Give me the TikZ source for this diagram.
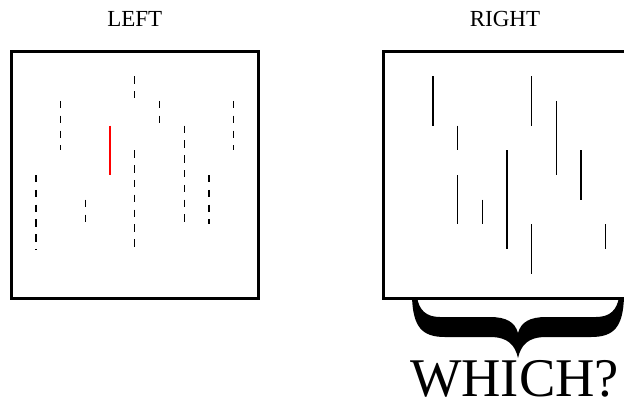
\documentclass[tikz,border=0pt]{standalone}
\usepackage{fontspec}
\setmainfont{Liberation Serif}
\begin{document}
\begin{tikzpicture}[x=1pt,y=-1pt,
  frame/.style={draw=black,line width=3.4pt},
  dashseg/.style={draw=black,line width=1.3pt,dash pattern=on 7.4pt off 7.4pt},
  solidseg/.style={draw=black,line width=1.3pt},
  redseg/.style={draw=red,line width=1.3pt},
  title/.style={font=\fontsize{23}{23}\selectfont,anchor=base,inner sep=0pt},
  bigtitle/.style={font=\fontsize{54.5}{54.5}\selectfont,anchor=base,inner sep=0pt}]
\useasboundingbox (0,0) rectangle (624,400);
\def\u{24.7}
\def\yo{51.5}
\def\xl{11.3}
\def\xr{383.5}
% frames
\draw[frame] (\xl,\yo) rectangle ++(247,247);
\draw[frame] (\xr,\yo) rectangle ++(247,247);
% titles
\node[title] (left) at (134.8,26.7) {LEFT};
\node[title] (right) at (505,26.7) {RIGHT};
% left dashed segments: x-unit / from / to
\foreach \i/\a/\b in {1/5/8, 2/2/4, 3/6/7, 5/1/2, 5/4/8, 6/2/3, 7/3/7, 8/5/7, 9/2/4}
  \draw[dashseg] ({\xl+\i*\u},{\yo+\a*\u}) -- ({\xl+\i*\u},{\yo+\b*\u});
\draw[redseg] ({\xl+4*\u},{\yo+3*\u}) -- ({\xl+4*\u},{\yo+5*\u});
% right solid segments
\foreach \i/\a/\b in {2/1/3, 3/3/4, 3/5/7, 4/6/7, 5/4/8, 6/1/3, 6/7/9, 7/2/5, 8/4/6, 9/7/8}
  \draw[solidseg] ({\xr+\i*\u},{\yo+\a*\u}) -- ({\xr+\i*\u},{\yo+\b*\u});
% brace
\fill[black] (412,297) .. controls (413,327) and (422,337) .. (445,337)
  -- (490,337) .. controls (508,337) and (515,345) .. (518,358)
  .. controls (521,345) and (528,337) .. (546,337)
  -- (591,337) .. controls (614,337) and (623,327) .. (624,297)
  -- (619,297) .. controls (617,310) and (610,317) .. (596,317)
  -- (546,317) .. controls (530,317) and (521,322) .. (518,333)
  .. controls (515,322) and (506,317) .. (490,317)
  -- (440,317) .. controls (426,317) and (419,310) .. (417,297) -- cycle;
\node[bigtitle] (which) at (514.5,396) {WHICH?};
\end{tikzpicture}
\end{document}
